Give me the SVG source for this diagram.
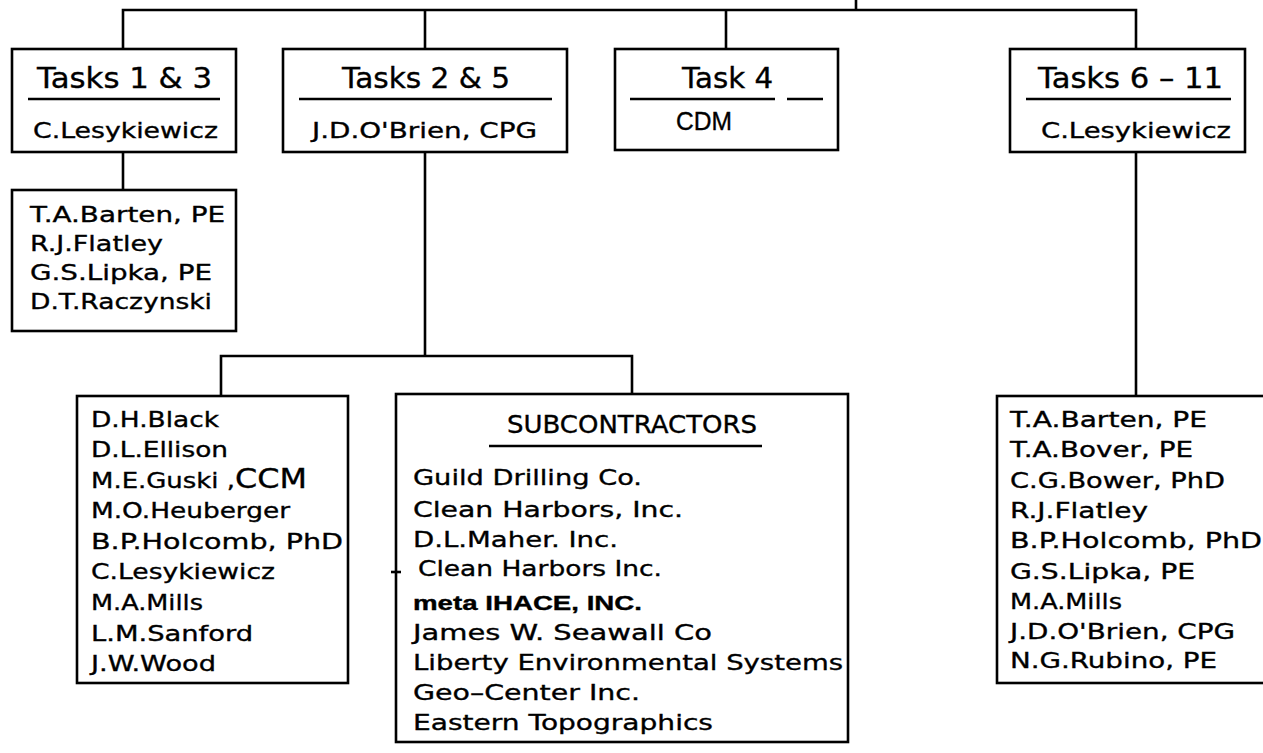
<svg xmlns="http://www.w3.org/2000/svg" width="1263" height="753" viewBox="0 0 1263 753">
<style>
  .box { fill: #ffffff; stroke: #000; stroke-width: 2.6; }
  .ln { fill: none; stroke: #000; stroke-width: 2.6; }
  .ul { stroke: #000; stroke-width: 2.6; }
  text { fill: #000; stroke: #000; stroke-width: 0.35; }
  .title { font-family: "DejaVu Sans", "Liberation Sans", sans-serif; font-size: 28px; }
  .name { font-family: "DejaVu Sans", "Liberation Sans", sans-serif; font-size: 22px; }
  .big { font-size: 27px; }
  .cdm { font-family: "Liberation Sans", Arial, sans-serif; font-size: 25px; }
  .bold { font-family: "Liberation Sans", Arial, sans-serif; font-size: 20px; font-weight: bold; }
  .hdr { font-family: "DejaVu Sans", "Liberation Sans", sans-serif; font-size: 24px; }
</style>
<rect width="1263" height="753" fill="#ffffff"/>

<g id="connectors">
  <path class="ln" d="M856,0 V10"/>
  <path class="ln" d="M123,49 V10 H1136 V49"/>
  <path class="ln" d="M425,10 V49"/>
  <path class="ln" d="M726,10 V49"/>
  <path class="ln" d="M123,152 V190"/>
  <path class="ln" d="M425,152 V356"/>
  <path class="ln" d="M221,396 V356 H632 V394"/>
  <path class="ln" d="M1136,152 V396"/>
</g>

<g id="tasks13">
  <rect class="box" x="12" y="49" width="224" height="103"/>
  <text class="title" x="37" y="88" textLength="175" lengthAdjust="spacingAndGlyphs">Tasks 1 &amp; 3</text>
  <line class="ul" x1="28" y1="99" x2="220" y2="99"/>
  <text class="name" x="33" y="138" textLength="185" lengthAdjust="spacingAndGlyphs">C.Lesykiewicz</text>
</g>

<g id="tasks25">
  <rect class="box" x="283" y="49" width="284" height="103"/>
  <text class="title" x="342" y="88" textLength="168" lengthAdjust="spacingAndGlyphs">Tasks 2 &amp; 5</text>
  <line class="ul" x1="299" y1="99" x2="552" y2="99"/>
  <text class="name" x="312" y="138" textLength="225" lengthAdjust="spacingAndGlyphs">J.D.O'Brien, CPG</text>
</g>

<g id="task4">
  <rect class="box" x="615" y="49" width="223" height="101"/>
  <text class="title" x="682" y="88" textLength="91" lengthAdjust="spacingAndGlyphs">Task 4</text>
  <line class="ul" x1="630" y1="99" x2="775" y2="99"/>
  <line class="ul" x1="787" y1="99" x2="823" y2="99"/>
  <text class="cdm" x="676" y="130" textLength="56" lengthAdjust="spacingAndGlyphs">CDM</text>
</g>

<g id="tasks611">
  <rect class="box" x="1010" y="49" width="235" height="103"/>
  <text class="title" x="1038" y="88" textLength="185" lengthAdjust="spacingAndGlyphs">Tasks 6 – 11</text>
  <line class="ul" x1="1026" y1="99" x2="1231" y2="99"/>
  <text class="name" x="1041" y="138" textLength="190" lengthAdjust="spacingAndGlyphs">C.Lesykiewicz</text>
</g>

<g id="staff13">
  <rect class="box" x="12" y="190" width="224" height="141"/>
  <text class="name" x="30" y="222" textLength="195" lengthAdjust="spacingAndGlyphs">T.A.Barten, PE</text>
  <text class="name" x="30" y="251" textLength="133" lengthAdjust="spacingAndGlyphs">R.J.Flatley</text>
  <text class="name" x="30" y="280" textLength="182" lengthAdjust="spacingAndGlyphs">G.S.Lipka, PE</text>
  <text class="name" x="30" y="309" textLength="182" lengthAdjust="spacingAndGlyphs">D.T.Raczynski</text>
</g>

<g id="staff25">
  <rect class="box" x="77" y="396" width="271" height="287"/>
  <text class="name" x="91" y="427" textLength="128" lengthAdjust="spacingAndGlyphs">D.H.Black</text>
  <text class="name" x="91" y="457" textLength="137" lengthAdjust="spacingAndGlyphs">D.L.Ellison</text>
  <text class="name" x="91" y="488" textLength="216" lengthAdjust="spacingAndGlyphs">M.E.Guski ,<tspan class="big">CCM</tspan></text>
  <text class="name" x="91" y="518" textLength="199" lengthAdjust="spacingAndGlyphs">M.O.Heuberger</text>
  <text class="name" x="91" y="549" textLength="252" lengthAdjust="spacingAndGlyphs">B.P.Holcomb, PhD</text>
  <text class="name" x="91" y="579" textLength="184" lengthAdjust="spacingAndGlyphs">C.Lesykiewicz</text>
  <text class="name" x="91" y="610" textLength="112" lengthAdjust="spacingAndGlyphs">M.A.Mills</text>
  <text class="name" x="91" y="641" textLength="162" lengthAdjust="spacingAndGlyphs">L.M.Sanford</text>
  <text class="name" x="91" y="671" textLength="125" lengthAdjust="spacingAndGlyphs">J.W.Wood</text>
</g>

<g id="subcontractors">
  <rect class="box" x="396" y="394" width="452" height="348"/>
  <text class="hdr" x="507" y="433" textLength="250" lengthAdjust="spacingAndGlyphs">SUBCONTRACTORS</text>
  <line class="ul" x1="489" y1="446" x2="762" y2="446"/>
  <text class="name" x="413" y="485" textLength="229" lengthAdjust="spacingAndGlyphs">Guild Drilling Co.</text>
  <text class="name" x="413" y="517" textLength="270" lengthAdjust="spacingAndGlyphs">Clean Harbors, Inc.</text>
  <text class="name" x="413" y="547" textLength="205" lengthAdjust="spacingAndGlyphs">D.L.Maher. Inc.</text>
  <line class="ul" x1="391" y1="572" x2="401" y2="572"/>
  <text class="name" x="418" y="576" textLength="244" lengthAdjust="spacingAndGlyphs">Clean Harbors Inc.</text>
  <text class="bold" x="413" y="610" textLength="229" lengthAdjust="spacingAndGlyphs">meta IHACE, INC.</text>
  <text class="name" x="413" y="640" textLength="299" lengthAdjust="spacingAndGlyphs">James W. Seawall Co</text>
  <text class="name" x="413" y="670" textLength="430" lengthAdjust="spacingAndGlyphs">Liberty Environmental Systems</text>
  <text class="name" x="413" y="700" textLength="227" lengthAdjust="spacingAndGlyphs">Geo–Center Inc.</text>
  <text class="name" x="413" y="730" textLength="300" lengthAdjust="spacingAndGlyphs">Eastern Topographics</text>
</g>

<g id="staff611">
  <rect class="box" x="997" y="396" width="280" height="287"/>
  <text class="name" x="1010" y="427" textLength="197" lengthAdjust="spacingAndGlyphs">T.A.Barten, PE</text>
  <text class="name" x="1010" y="457" textLength="183" lengthAdjust="spacingAndGlyphs">T.A.Bover, PE</text>
  <text class="name" x="1010" y="488" textLength="215" lengthAdjust="spacingAndGlyphs">C.G.Bower, PhD</text>
  <text class="name" x="1010" y="518" textLength="138" lengthAdjust="spacingAndGlyphs">R.J.Flatley</text>
  <text class="name" x="1010" y="548" textLength="252" lengthAdjust="spacingAndGlyphs">B.P.Holcomb, PhD</text>
  <text class="name" x="1010" y="579" textLength="185" lengthAdjust="spacingAndGlyphs">G.S.Lipka, PE</text>
  <text class="name" x="1010" y="609" textLength="112" lengthAdjust="spacingAndGlyphs">M.A.Mills</text>
  <text class="name" x="1010" y="639" textLength="225" lengthAdjust="spacingAndGlyphs">J.D.O'Brien, CPG</text>
  <text class="name" x="1010" y="668" textLength="207" lengthAdjust="spacingAndGlyphs">N.G.Rubino, PE</text>
</g>
</svg>
